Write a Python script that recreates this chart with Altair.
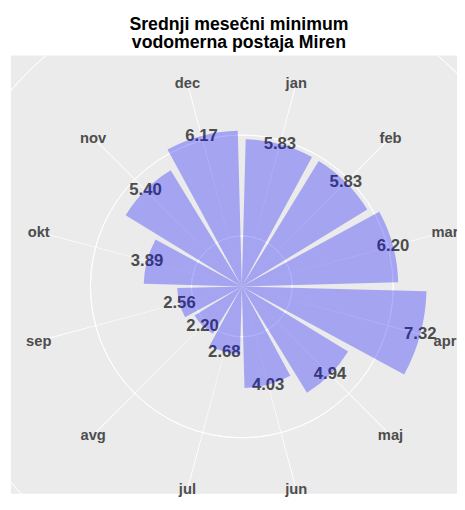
import math
import altair as alt
import pandas as pd

months = ["jan", "feb", "mar", "apr", "maj", "jun", "jul", "avg", "sep", "okt", "nov", "dec"]
values = [5.83, 5.83, 6.20, 7.32, 4.94, 4.03, 2.68, 2.20, 2.56, 3.89, 5.40, 6.17]
r_breaks = [2, 4, 6]
title_lines = ["Srednji mesečni minimum", "\u00a0vodomerna postaja Miren"]

ymax = max(values)
outer = ymax * 0.45 / 0.4
n = len(months)
step = 2 * math.pi / n

df = pd.DataFrame({
    "month": months,
    "value": values,
    "idx": list(range(n)),
    "label": [f"{v:.2f}" for v in values],
})
df["ro"] = outer
df["rl"] = outer * 1.012

grid_df = pd.DataFrame({"r": r_breaks + [outer]})

FONT = "Liberation Sans"
CX, CY = 235, 235
rscale = alt.Scale(type="linear", domain=[0, ymax], range=[0, 188], zero=True, nice=False)

base = alt.Chart(df).transform_calculate(
    t0=f"(datum.idx + 0.05) * {step}",
    t1=f"(datum.idx + 0.95) * {step}",
    tm=f"(datum.idx + 0.5) * {step}",
    s0=f"(datum.idx + 0.5) * {step} - 0.0024",
    s1=f"(datum.idx + 0.5) * {step} + 0.0024",
)

circles = alt.Chart(grid_df).mark_arc(fillOpacity=0, stroke="white", strokeWidth=0.9).encode(
    theta=alt.value(0),
    theta2=alt.value(2 * math.pi),
    radius=alt.Radius("r:Q", scale=rscale),
    x=alt.value(CX), y=alt.value(CY),
)

spokes = base.mark_arc(fill="white", strokeWidth=0).encode(
    theta=alt.Theta("s0:Q", scale=None, stack=False),
    theta2="s1:Q",
    radius=alt.Radius("ro:Q", scale=rscale),
    radius2=alt.value(0),
    x=alt.value(CX), y=alt.value(CY),
)

vtext = base.mark_text(font=FONT, fontSize=17, fontWeight="bold", color="#4d4d4d",
                       align="center", baseline="middle").encode(
    theta=alt.Theta("tm:Q", scale=None, stack=False),
    radius=alt.Radius("value:Q", scale=rscale),
    text="label:N",
    x=alt.value(CX), y=alt.value(CY),
)

bars = base.mark_arc(color="blue", opacity=0.3).encode(
    theta=alt.Theta("t0:Q", scale=None, stack=False),
    theta2="t1:Q",
    radius=alt.Radius("value:Q", scale=rscale),
    radius2=alt.value(0),
    x=alt.value(CX), y=alt.value(CY),
)

mlabels = base.mark_text(font=FONT, fontSize=15, fontWeight="bold", color="#4d4d4d",
                         align="center", baseline="middle").encode(
    theta=alt.Theta("tm:Q", scale=None, stack=False),
    radius=alt.Radius("rl:Q", scale=rscale),
    text="month:N",
    x=alt.value(CX), y=alt.value(CY),
)

title = alt.Chart(pd.DataFrame({"t": [0]})).mark_text(
    text=title_lines, font=FONT, fontSize=18, fontWeight="bold", color="black",
    align="center", baseline="alphabetic", lineHeight=18,
).encode(x=alt.value(232), y=alt.value(-26))

chart = alt.layer(circles, spokes, vtext, bars, mlabels, title).properties(
    width=454,
    height=446,
    autosize="none",
    padding={"left": 3, "top": 44, "right": 0, "bottom": 0},
    background="white",
).configure_view(fill="#ebebeb", strokeWidth=0)

chart.save("out.html", embed_options={"renderer": "svg", "actions": False})
